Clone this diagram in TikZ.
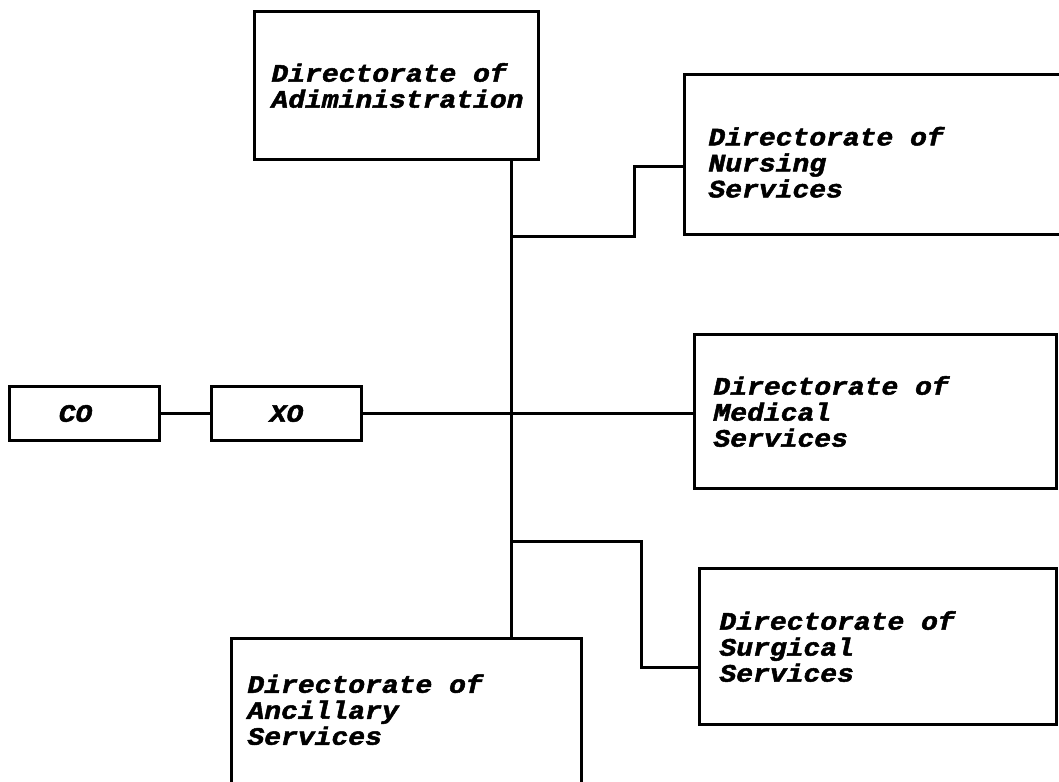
\documentclass[tikz,border=0pt]{standalone}
\usepackage{fontspec}
\newfontfamily\boxfont[FakeStretch=1.12, BoldItalicFeatures={FakeBold=2}]{Liberation Mono}
\newcommand\topgap[1]{\rule{0pt}{#1}}
\newcommand\botgap[1]{\rule[-#1]{0pt}{0pt}}
\newcommand\wsp{\hspace*{16.8pt}}
\begin{document}
\begin{tikzpicture}[x=1pt,y=-1pt,
  box/.style={draw, line width=3pt, anchor=north west, align=left,
    inner xsep=0pt, inner ysep=0pt,
    font=\boxfont\bfseries\itshape\fontsize{25}{26}\selectfont},
  link/.style={line width=3pt}]
\useasboundingbox (0,0) rectangle (1059,781);
% boxes
\node[box, minimum width=150pt, minimum height=54pt, text width=150pt, align=center] (CO) at (8,385) {\hspace*{-18pt}CO};
\node[box, minimum width=150pt, minimum height=54pt, text width=150pt, align=center] (XO) at (210,385) {XO};
\node[box, minimum width=284pt, minimum height=148pt, text width=250pt] (Admin) at (253,10)
  {Directorate\wsp of\\Adiministration};
\node[box, minimum width=420pt, minimum height=160pt, text width=372pt] (Nursing) at (683,73)
  {\topgap{34pt}Directorate\wsp of\\Nursing\\Services};
\node[box, minimum width=362pt, minimum height=154pt, text width=324pt] (Medical) at (693,333)
  {Directorate\wsp of\\Medical\\Services};
\node[box, minimum width=357pt, minimum height=156pt, text width=317pt] (Surgical) at (698,567)
  {Directorate\wsp of\\Surgical\\Services};
\node[box, minimum width=350pt, minimum height=150pt, text width=318pt] (Ancillary) at (230,637)
  {Directorate\wsp of\\Ancillary\\Services\botgap{8pt}};
% spine and joints
\coordinate (sp) at (511,0);
\coordinate (n1) at (634,236);
\coordinate (n2) at (634,166);
\coordinate (s1) at (641,541);
\coordinate (s2) at (641,667);
% connectors
\draw[link] (CO.east) -- (XO.west);
\draw[link] (XO.east) -- (XO.east -| Medical.west);
\draw[link] (Admin.south -| sp) -- (Ancillary.north -| sp);
\draw[link] (n1 -| sp) -- (n1) -- (n2) -- (n2 -| Nursing.west);
\draw[link] (s1 -| sp) -- (s1) -- (s2) -- (s2 -| Surgical.west);
\end{tikzpicture}
\end{document}
